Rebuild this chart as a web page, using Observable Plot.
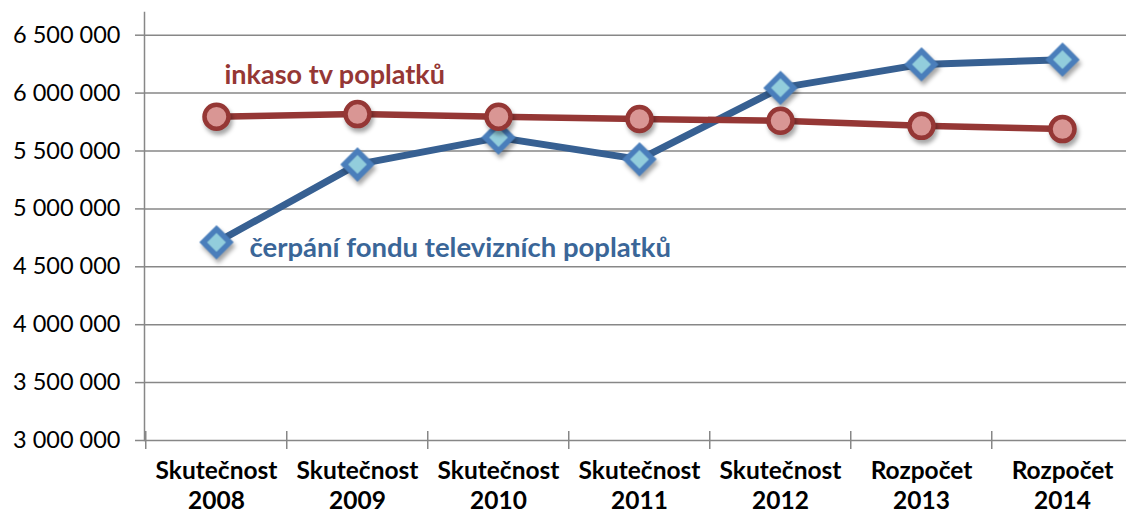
<!DOCTYPE html>
<html>
<head>
<meta charset="utf-8">
<script src="https://cdn.jsdelivr.net/npm/d3@7"></script>
<script src="https://cdn.jsdelivr.net/npm/@observablehq/plot@0.6"></script>
<style>
  html, body { margin: 0; padding: 0; background: white; }
  #chart { width: 1126px; height: 516px; overflow: hidden; }
</style>
</head>
<body>
<div id="chart"></div>
<script>
const categories = ["Skutečnost 2008", "Skutečnost 2009", "Skutečnost 2010", "Skutečnost 2011", "Skutečnost 2012", "Rozpočet 2013", "Rozpočet 2014"];
const inkaso = [5796000, 5819000, 5796000, 5776000, 5761000, 5717000, 5689000];
const cerpani = [4711000, 5384000, 5616000, 5428000, 6045000, 6248000, 6289000];
const yTicks = [3000000, 3500000, 4000000, 4500000, 5000000, 5500000, 6000000, 6500000];
const seriesNames = ["inkaso tv poplatků", "čerpání fondu televizních poplatků"];

const inkasoData = categories.map((c, i) => ({cat: c, value: inkaso[i]}));
const cerpaniData = categories.map((c, i) => ({cat: c, value: cerpani[i]}));
const labelData = [
  {name: seriesNames[0], cat: categories[0], value: 6150000},
  {name: seriesNames[1], cat: categories[0], value: 4665000}
];

const xRange = [144, 1134.5];
const step = (xRange[1] - xRange[0]) / categories.length;
const fmt = d => d3.format(",")(d).replace(/,/g, " ");

const red = "#953735", redFill = "#d99694";
const blueLine = "#376092", blueStroke = "#4a7ebb", blueFill = "#92cddc";
const grid = "#878787";

const svg = Plot.plot({
  width: 1126,
  height: 516,
  marginLeft: 144,
  marginRight: 0,
  marginTop: 12,
  marginBottom: 76,
  style: {fontFamily: "Lato, 'Open Sans', sans-serif", background: "white", color: "black"},
  x: {type: "point", domain: categories, range: xRange, padding: 0.5, label: null},
  y: {domain: [3000000, 6500000], range: [440, 34.7], label: null},
  marks: [
    Plot.gridY(yTicks, {stroke: grid, strokeOpacity: 1, strokeWidth: 1.5}),
    Plot.frame({anchor: "left", stroke: grid, strokeWidth: 1.5}),
    Plot.axisY(yTicks, {tickSize: 9, tickPadding: 15, tickFormat: fmt, fontSize: 23.5, stroke: grid, strokeWidth: 1.5, fill: "black", label: null}),
    Plot.ruleX(categories, {x: d => d, y1: 3000000, y2: 3000000, insetTop: -9, insetBottom: -9, dx: -step / 2, stroke: grid, strokeWidth: 1.5}),
    Plot.axisX({tickSize: 0, tickPadding: 17, tickFormat: d => d.replace(" ", "\n"), fontSize: 24.5, fontWeight: "bold", lineHeight: 1.24, fill: "black", label: null}),
    Plot.line(cerpaniData, {x: "cat", y: "value", stroke: blueLine, strokeWidth: 7}),
    Plot.dot(cerpaniData, {x: "cat", y: "value", symbol: "diamond2", r: 12, fill: blueFill, stroke: blueStroke, strokeWidth: 5.5}),
    Plot.line(inkasoData, {x: "cat", y: "value", stroke: red, strokeWidth: 6.5}),
    Plot.dot(inkasoData, {x: "cat", y: "value", r: 12, fill: redFill, stroke: red, strokeWidth: 4.5}),
    Plot.text(labelData.slice(0, 1), {x: "cat", y: "value", text: "name", textAnchor: "start", dx: 8, fontSize: 27, fontWeight: "bold", fill: red}),
    Plot.text(labelData.slice(1), {x: "cat", y: "value", text: "name", textAnchor: "start", dx: 33, fontSize: 27.5, fontWeight: "bold", fill: "#3a6698"})
  ]
});

d3.select(svg).selectAll('g[aria-label="dot"]').style("filter", "drop-shadow(2px 4px 2px rgba(0,0,0,0.35))");
document.getElementById("chart").appendChild(svg);
</script>
</body>
</html>
